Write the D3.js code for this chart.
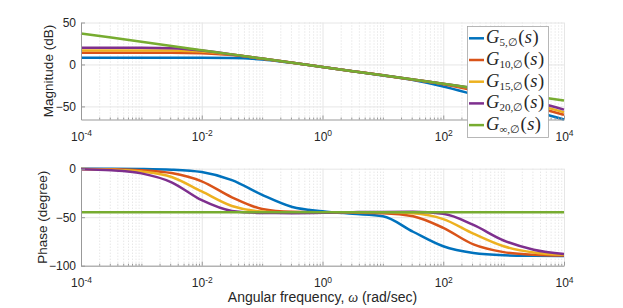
<!DOCTYPE html>
<html>
<head>
<meta charset="utf-8">
<script src="https://cdnjs.cloudflare.com/ajax/libs/d3/7.8.5/d3.min.js"></script>
<style>
body { margin:0; background:#fff; }
text { font-family:"Liberation Sans", Arial, sans-serif; fill:#262626; }
</style>
</head>
<body>
<div id="chart"></div>
<script>
// frequencies (rad/sec), half-decade steps
var freq = [1e-4, 3.16e-4, 1e-3, 3.16e-3, 1e-2, 3.16e-2, 0.1, 0.316, 1, 3.16, 10, 31.6, 100, 316, 1000, 3160, 1e4];

// magnitude (dB)
var magG5   = [7.9, 7.9, 7.9, 7.9, 7.9, 7.6, 5.9, 1.9, -3.0, -8.0, -13.1, -18.6, -26.2, -35.7, -45.6, -55.6, -65.6];
var magG10  = [13.9, 13.9, 13.9, 13.9, 13.4, 11.2, 6.9, 2.0, -3.0, -8.0, -13.0, -18.1, -23.5, -30.8, -40.2, -50.1, -60.1];
var magG15  = [16.7, 16.7, 16.7, 16.5, 15.3, 11.8, 7.0, 2.0, -3.0, -8.0, -13.0, -18.0, -23.1, -29.1, -37.3, -47.0, -57.0];
var magG20  = [19.9, 19.9, 19.8, 19.2, 16.5, 11.9, 7.0, 2.0, -3.0, -8.0, -13.0, -18.0, -23.0, -28.3, -34.9, -43.9, -53.8];
var magGinf = [37, 32, 27, 22, 17, 12, 7, 2, -3, -8, -13, -18, -23, -28, -33, -38, -43];

// phase (degree)
var phG5   = [-0.1, -0.1, -0.3, -1.0, -3.5, -11.8, -27, -39.5, -43.8, -46.5, -49, -65, -80, -87, -89.3, -89.8, -90];
var phG10  = [-0.2, -0.5, -1.5, -4.5, -13, -29.5, -41.5, -44.5, -45.0, -45.3, -45.8, -49, -61, -78, -86, -88.8, -89.6];
var phG15  = [-0.3, -1.0, -3.0, -8.5, -23.5, -38.5, -44.2, -45.2, -45.3, -45.0, -45.0, -46, -52, -67, -80, -86.5, -88.8];
var phG20  = [-0.6, -1.6, -4.8, -14, -32.5, -43.5, -45.6, -45.8, -45.5, -44.8, -44.6, -44.5, -46.5, -58, -74, -83.5, -88];
var phGinf = [-45, -45, -45, -45, -45, -45, -45, -45, -45, -45, -45, -45, -45, -45, -45, -45, -45];

var seriesSub = ["5,\u2205", "10,\u2205", "15,\u2205", "20,\u2205", "\u221e,\u2205"];
var colors = ["#0072BD", "#D95319", "#EDB120", "#7E2F8E", "#77AC30"];

var magTicks = [-50, 0, 50];
var phTicks = [-100, -50, 0];
var xTicks = [1e-4, 1e-2, 1, 1e2, 1e4];

var width = 623, height = 308;
var left = 81, right = 564;

var svg = d3.select("#chart")
            .append("svg")
            .attr("width", width)
            .attr("height", height);

var x = d3.scaleLog().domain([1e-4, 1e4]).range([left, right]);

// minor tick/grid positions on the log axis
var xMinor = [];
for (var k = -4; k < 4; k++) {
  for (var m = 1; m < 10; m++) {
    var v = m * Math.pow(10, k);
    if (xTicks.indexOf(v) < 0) xMinor.push(v);
  }
}

function panel(top, bottom, yDomain, yTicks, data, label, labelX) {
  var y = d3.scaleLinear().domain(yDomain).range([bottom, top]);
  var g = svg.append("g");
  var h = bottom - top;

  // minor vertical grid (dotted)
  g.append("g")
    .attr("transform", "translate(0," + bottom + ")")
    .call(d3.axisBottom(x).tickValues(xMinor).tickSize(-h).tickFormat(""))
    .call(function(s) {
      s.select(".domain").remove();
      s.selectAll("line").attr("stroke", "#dcdcdc").attr("stroke-dasharray", "1,2");
    });

  // major grid
  g.append("g")
    .attr("transform", "translate(0," + bottom + ")")
    .call(d3.axisBottom(x).tickValues(xTicks).tickSize(-h).tickFormat(""))
    .call(function(s) {
      s.select(".domain").remove();
      s.selectAll("line").attr("stroke", "#e6e6e6");
    });
  g.append("g")
    .attr("transform", "translate(" + left + ",0)")
    .call(d3.axisLeft(y).tickValues(yTicks).tickSize(-(right - left)).tickFormat(""))
    .call(function(s) {
      s.select(".domain").remove();
      s.selectAll("line").attr("stroke", "#e6e6e6");
    });

  // curves
  var line = d3.line()
    .x(function(d) { return x(d[0]); })
    .y(function(d) { return y(d[1]); })
    .curve(d3.curveMonotoneX);

  data.forEach(function(vals, i) {
    g.append("path")
      .datum(freq.map(function(f, j) { return [f, vals[j]]; }))
      .attr("fill", "none")
      .attr("stroke", colors[i])
      .attr("stroke-width", 2.5)
      .attr("d", line);
  });

  // minor ticks
  g.append("g")
    .attr("transform", "translate(0," + bottom + ")")
    .call(d3.axisBottom(x).tickValues(xMinor).tickSize(-2).tickFormat(""))
    .call(function(s) {
      s.select(".domain").remove();
      s.selectAll("line").attr("stroke", "#999");
    });

  // x axis
  g.append("g")
    .attr("transform", "translate(0," + bottom + ")")
    .call(d3.axisBottom(x).tickValues(xTicks).tickSizeInner(-4).tickSizeOuter(0).tickPadding(13))
    .call(function(s) {
      s.select(".domain").attr("stroke", "#999");
      s.selectAll("line").attr("stroke", "#999");
      s.selectAll("text")
        .attr("font-size", "12px")
        .text("10")
        .append("tspan")
        .attr("dy", "-0.55em")
        .attr("font-size", "8.5px")
        .text(function(d) { return Math.round(Math.log10(d)); });
    });

  // y axis
  g.append("g")
    .attr("transform", "translate(" + left + ",0)")
    .call(d3.axisLeft(y).tickValues(yTicks).tickSizeInner(-4).tickSizeOuter(0).tickPadding(5))
    .call(function(s) {
      s.select(".domain").attr("stroke", "#999");
      s.selectAll("line").attr("stroke", "#999");
      s.selectAll("text").attr("font-size", "12px").style("fill", "#262626");
    });

  svg.append("text")
    .attr("transform", "translate(" + labelX + "," + ((top + bottom) / 2) + ") rotate(-90)")
    .attr("text-anchor", "middle")
    .attr("font-size", "13.5px")
    .text(label);
}

panel(22.5, 119.5, [-65.6, 50], magTicks, [magG5, magG10, magG15, magG20, magGinf], "Magnitude (dB)", 52.5);
panel(168.7, 265.7, [-100, 0], phTicks, [phG5, phG10, phG15, phG20, phGinf], "Phase (degree)", 47);

// x label
var xl = svg.append("text")
  .attr("x", 322.5)
  .attr("y", 302)
  .attr("text-anchor", "middle")
  .attr("font-size", "14px");
xl.append("tspan").text("Angular frequency, ");
xl.append("tspan").attr("font-style", "italic").attr("font-family", "Liberation Serif").text("\u03c9");
xl.append("tspan").text(" (rad/sec)");

// legend
var legend = svg.append("g");
legend.append("rect")
  .attr("x", 467.5)
  .attr("y", 26.5)
  .attr("width", 81)
  .attr("height", 111)
  .attr("fill", "#fff")
  .attr("stroke", "#a6a6a6")
  .attr("stroke-width", 0.8);

seriesSub.forEach(function(sub, i) {
  var cy = 38.3 + i * 21.7;
  legend.append("line")
    .attr("x1", 469).attr("x2", 484)
    .attr("y1", cy).attr("y2", cy)
    .attr("stroke", colors[i])
    .attr("stroke-width", 2.5);
  var t = legend.append("text")
    .attr("x", 486)
    .attr("y", cy + 5)
    .style("font-family", "'Liberation Serif', 'DejaVu Serif', serif")
    .attr("font-size", "18.5px");
  t.append("tspan").attr("font-style", "italic").text("G");
  t.append("tspan").attr("font-size", "11px").attr("dy", 3).text(sub);
  t.append("tspan").attr("dy", -3).attr("dx", 0.5).text("(");
  t.append("tspan").attr("font-style", "italic").attr("dx", 0.5).text("s");
  t.append("tspan").attr("dx", 0.5).text(")");
});
</script>
</body>
</html>
